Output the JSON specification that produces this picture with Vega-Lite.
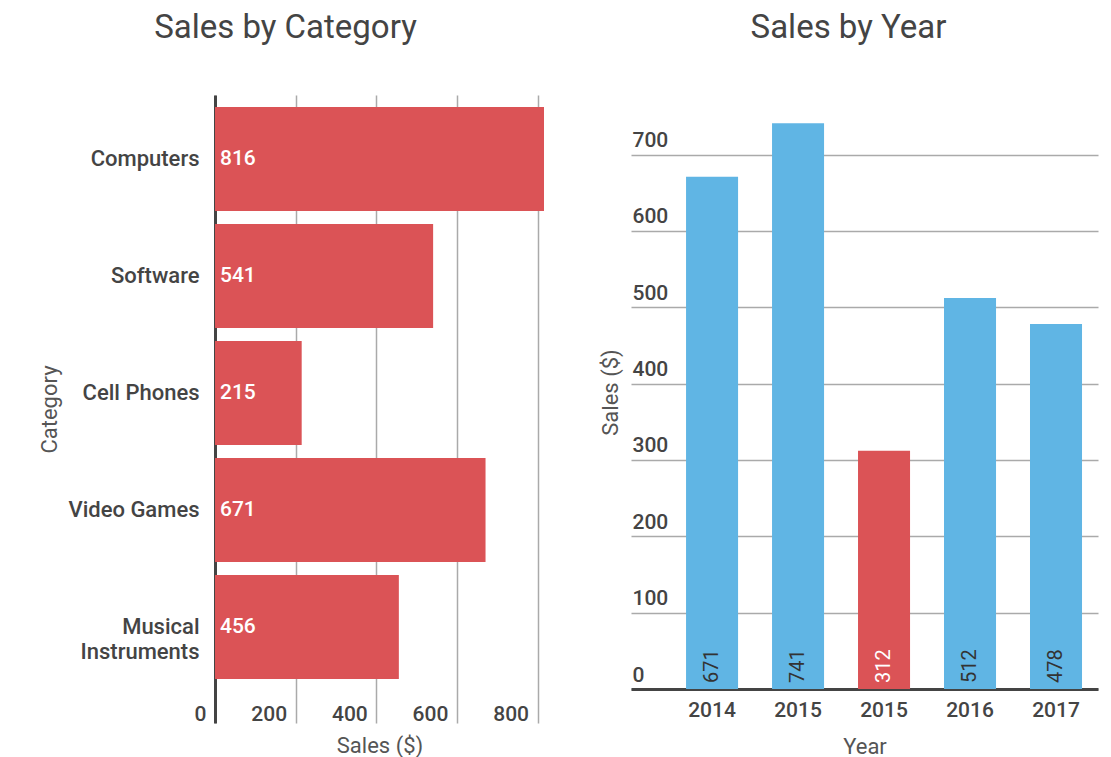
{
  "$schema": "https://vega.github.io/schema/vega-lite/v6.json",
  "background": "white",
  "padding": {"left": 38, "top": 12, "right": 5, "bottom": 2},
  "config": {
    "font": "Roboto",
    "view": {"stroke": null},
    "title": {"font": "Roboto", "fontSize": 33, "fontWeight": "normal", "color": "#444", "anchor": "middle", "frame": "bounds", "offset": 50},
    "axis": {
      "labelFont": "Roboto", "labelFontSize": 21, "labelFontWeight": 500, "labelColor": "#444",
      "titleFont": "Roboto", "titleFontSize": 22, "titleFontWeight": "normal", "titleColor": "#555",
      "ticks": false, "gridColor": "#aaa", "gridWidth": 1.5, "gridOpacity": 1,
      "domainColor": "#444", "domainWidth": 3, "minExtent": 0
    }
  },
  "datasets": {
    "category": [
      {"Category": "Computers", "Sales": 816},
      {"Category": "Software", "Sales": 541},
      {"Category": "Cell Phones", "Sales": 215},
      {"Category": "Video Games", "Sales": 671},
      {"Category": "Musical Instruments", "Sales": 456}
    ],
    "year": [
      {"Year": "2014", "Sales": 671, "Highlight": "no"},
      {"Year": "2015", "Sales": 741, "Highlight": "no"},
      {"Year": "2015\u200b", "Sales": 312, "Highlight": "yes"},
      {"Year": "2016", "Sales": 512, "Highlight": "no"},
      {"Year": "2017", "Sales": 478, "Highlight": "no"}
    ]
  },
  "spacing": 55,
  "hconcat": [
    {
      "title": {"text": "Sales by Category", "dx": -6},
      "width": 329,
      "height": 628,
      "data": {"name": "category"},
      "encoding": {
        "y": {
          "field": "Category", "type": "nominal", "sort": null,
          "scale": {"paddingInner": 0.111, "paddingOuter": 0.239, "align": 0.214},
          "axis": {
            "title": "Category", "labelPadding": 16, "labelFontSize": 22, "domain": true, "grid": false,
            "labelExpr": "datum.label == 'Musical Instruments' ? ['Musical', 'Instruments'] : datum.label",
            "labelLineHeight": 25, "titlePadding": 6
          }
        },
        "x": {
          "field": "Sales", "type": "quantitative",
          "scale": {"domain": [0, 816], "nice": false},
          "axis": {
            "title": "Sales ($)", "values": [0, 200, 400, 600, 800], "grid": true, "domain": false,
            "labelAlign": "right", "labelOffset": -9, "labelPadding": -3, "labelBaseline": "alphabetic",
            "labelFlush": false, "titlePadding": 11
          }
        }
      },
      "layer": [
        {"mark": {"type": "bar", "color": "#DB5356"}},
        {
          "mark": {"type": "text", "color": "white", "align": "left", "baseline": "middle", "dx": 5, "fontSize": 21, "fontWeight": 500},
          "encoding": {"x": {"datum": 0}, "text": {"field": "Sales", "type": "quantitative"}}
        }
      ]
    },
    {
      "title": "Sales by Year",
      "width": 467,
      "height": 594,
      "data": {"name": "year"},
      "encoding": {
        "x": {
          "field": "Year", "type": "nominal", "sort": null,
          "scale": {"paddingInner": 0.395, "paddingOuter": 0.413, "align": 0.775},
          "axis": {"title": "Year", "labelAngle": 0, "domain": true, "grid": false, "labelPadding": 10, "titlePadding": 16}
        },
        "y": {
          "field": "Sales", "type": "quantitative",
          "scale": {"domain": [0, 778], "nice": false},
          "axis": {
            "title": "Sales ($)", "values": [0, 100, 200, 300, 400, 500, 600, 700], "grid": true, "domain": false,
            "labelAlign": "left", "labelPadding": -1, "labelBaseline": "alphabetic", "labelOffset": -8,
            "titlePadding": 9
          }
        }
      },
      "layer": [
        {
          "mark": {"type": "bar"},
          "encoding": {
            "color": {"field": "Highlight", "type": "nominal", "scale": {"domain": ["no", "yes"], "range": ["#60B5E4", "#DB5356"]}, "legend": null}
          }
        },
        {
          "mark": {"type": "text", "angle": 270, "align": "left", "baseline": "middle", "dx": 6, "fontSize": 20},
          "encoding": {
            "y": {"datum": 0},
            "text": {"field": "Sales", "type": "quantitative"},
            "color": {"condition": {"test": "datum.Highlight == 'yes'", "value": "white"}, "value": "#333"}
          }
        }
      ]
    }
  ]
}
